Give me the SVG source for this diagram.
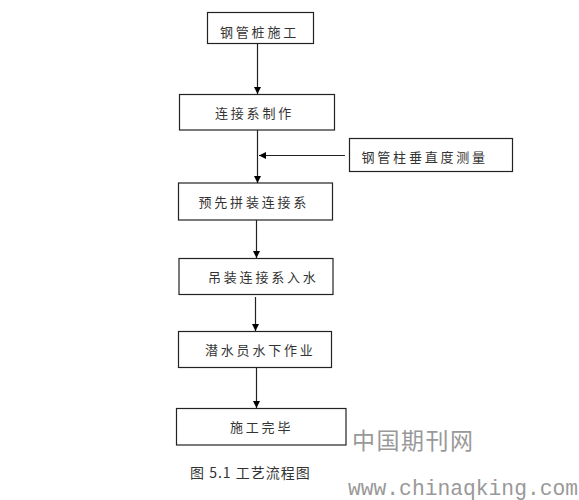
<svg xmlns="http://www.w3.org/2000/svg" width="579" height="500" viewBox="0 0 579 500">
<style>
.box{fill:#fff;stroke:#222;stroke-width:1.2}
.t{font-family:"Noto Sans CJK SC","Liberation Serif",serif;font-size:13px;fill:#333;letter-spacing:2.8px}
.ln{stroke:#222;stroke-width:1.2;fill:none}
.wm{fill:#999;font-family:"Noto Sans CJK SC",sans-serif}
</style>
<defs>
<marker id="ah" viewBox="0 0 10 10" refX="10" refY="5" markerWidth="7" markerHeight="7" markerUnits="userSpaceOnUse" orient="auto">
<path d="M0,0 L10,5 L0,10 Z" fill="#000"/>
</marker>
</defs>
<rect width="579" height="500" fill="#fff"/>
<g id="connectors">
<line class="ln" x1="257.5" y1="43" x2="257.5" y2="94" marker-end="url(#ah)"/>
<line class="ln" x1="257.5" y1="130" x2="257.5" y2="183" marker-end="url(#ah)"/>
<line class="ln" x1="345" y1="155.5" x2="259" y2="155.5" marker-end="url(#ah)"/>
<line class="ln" x1="256.5" y1="220" x2="256.5" y2="258" marker-end="url(#ah)"/>
<line class="ln" x1="255.5" y1="297" x2="255.5" y2="331" marker-end="url(#ah)"/>
<line class="ln" x1="256.5" y1="367" x2="256.5" y2="408" marker-end="url(#ah)"/>
</g>
<g id="n1"><rect class="box" x="207.5" y="12.5" width="106" height="31"/><text class="t" x="220" y="36.5">钢管桩施工</text></g>
<g id="n2"><rect class="box" x="179.5" y="94.5" width="155" height="35.5"/><text class="t" x="215" y="118">连接系制作</text></g>
<g id="n3"><rect class="box" x="349.5" y="138.5" width="163" height="33"/><text class="t" x="361.5" y="161.5">钢管柱垂直度测量</text></g>
<g id="n4"><rect class="box" x="178.5" y="183" width="154" height="37"/><text class="t" x="198.5" y="206.5">预先拼装连接系</text></g>
<g id="n5"><rect class="box" x="179" y="258.5" width="154" height="36"/><text class="t" x="208" y="281.5">吊装连接系入水</text></g>
<g id="n6"><rect class="box" x="178.5" y="331.5" width="153" height="36"/><text class="t" x="205" y="355">潜水员水下作业</text></g>
<g id="n7"><rect class="box" x="176.5" y="408.5" width="169.5" height="36.5"/><text class="t" x="230" y="431.5">施工完毕</text></g>
<text x="190" y="478" font-family="'Noto Sans CJK SC',serif" font-size="14" fill="#333" letter-spacing="1">图 5.1 工艺流程图</text>
<text class="wm" x="352" y="449" font-size="23" letter-spacing="1.5">中国期刊网</text>
<text x="348" y="495" font-family="'Liberation Mono',monospace" font-size="21.3" fill="#999">www.chinaqking.com</text>
</svg>
